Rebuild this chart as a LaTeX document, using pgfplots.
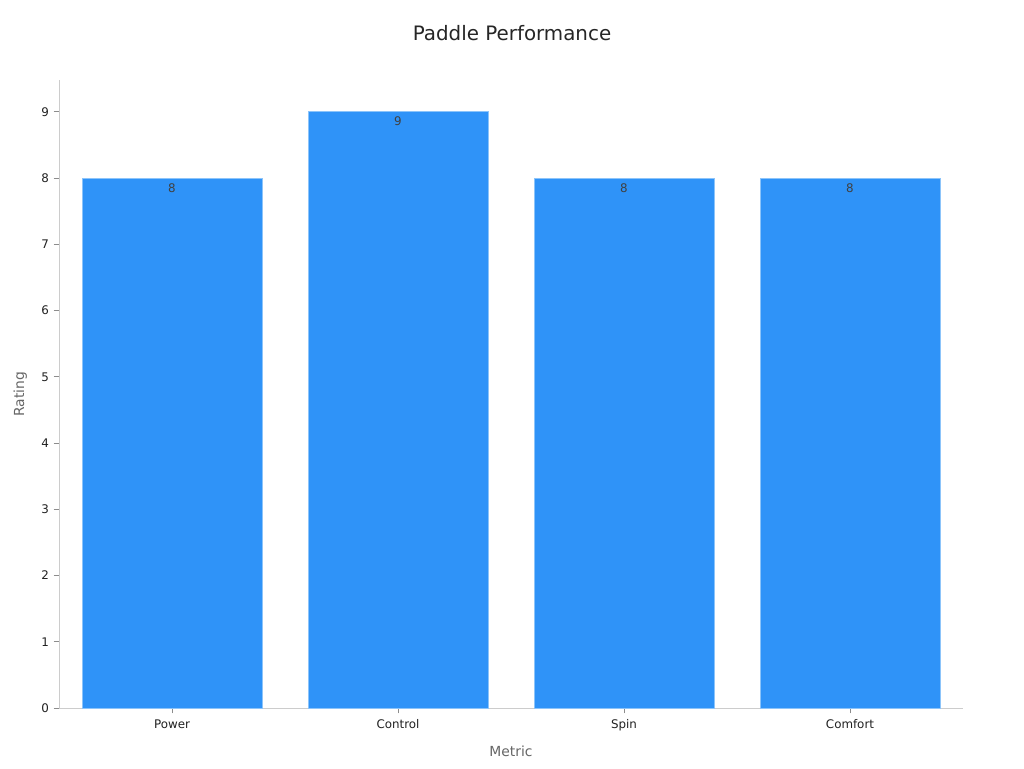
\documentclass[border=0pt]{standalone}
\usepackage{pgfplots}
\pgfplotsset{compat=1.18}
\usepackage{fontspec}
\setmainfont{DejaVu Sans}
\definecolor{barblue}{HTML}{2F93F8}
\definecolor{baredge}{HTML}{8CC4FA}
\definecolor{axgray}{HTML}{CCCCCC}
\begin{document}
\begin{tikzpicture}[x=1pt,y=1pt]
\useasboundingbox[fill=white] (0,0) rectangle (768,576);
\node[font=\fontsize{14.9}{18}\selectfont, text=black!85] at (384,551.25) {Paddle Performance};
\begin{axis}[
  at={(44.25pt,45pt)}, anchor=south west,
  scale only axis, width=678pt, height=471pt,
  xmin=-0.5, xmax=3.5, ymin=0, ymax=9.48,
  axis lines=left, axis line style={draw=axgray, -},
  xtick={0,1,2,3}, xticklabels={Power,Control,Spin,Comfort},
  ytick={0,1,...,9},
  tick style={draw=black!45, line width=0.6pt},
  major tick length=4pt,
  tick align=outside,
  ticklabel style={font=\fontsize{8.9}{10}\selectfont, text=black!87},
  xticklabel style={text height=0.75em, text depth=0.22em, yshift=-0.5pt},
  /pgf/number format/assume math mode=true,
  xlabel={Metric}, ylabel={Rating},
  label style={font=\fontsize{10.4}{12}\selectfont, text=black!60},
  xlabel style={yshift=-3.5pt},
  ylabel style={yshift=4pt},
  ybar, bar width=135pt,
  nodes near coords,
  nodes near coords style={anchor=north, font=\fontsize{8.9}{10}\selectfont, text=black!75, yshift=-0.3pt},
]
\addplot[fill=barblue, draw=baredge, line width=0.6pt] coordinates {(0,8) (1,9) (2,8) (3,8)};
\end{axis}
\end{tikzpicture}
\end{document}
